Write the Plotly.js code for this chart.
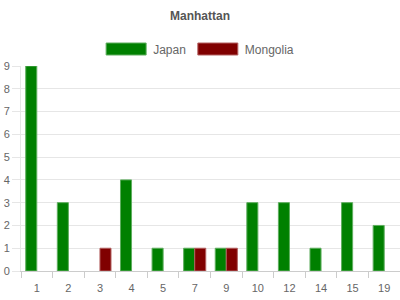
<!DOCTYPE html>
<html>
<head>
<meta charset="utf-8">
<script src="https://cdn.plot.ly/plotly-3.0.1.min.js"></script>
<style>html,body{margin:0;padding:0;background:#fff;}#chart{width:400px;height:300px;}</style>
</head>
<body>
<div id="chart"></div>
<script>
var categories = ["1","2","3","4","5","7","9","10","12","14","15","19"];
var japan    = [9,3,0,4,1,1,1,3,3,1,3,2];
var mongolia = [0,0,1,0,0,1,1,0,0,0,0,0];
var seriesNames = ["Japan","Mongolia"];
var edgeColors = ["#5fae5f","#b36060"];

function edge(vals){ return vals.map(function(v){ return v ? 1 : 0; }); }

var traces = [
  {type:"bar", name:seriesNames[0], x:categories, y:japan,
   marker:{color:"#008000", line:{color:edgeColors[0], width:edge(japan)}}},
  {type:"bar", name:seriesNames[1], x:categories, y:mongolia,
   marker:{color:"#800000", line:{color:edgeColors[1], width:edge(mongolia)}}}
];

var font = "Liberation Sans, Arial, sans-serif";
var layout = {
  width:400, height:300,
  margin:{l:21, r:0, t:66, b:29},
  paper_bgcolor:"#fff", plot_bgcolor:"#fff",
  barmode:"group", bargap:0.3, bargroupgap:0,
  font:{family:font, size:11, color:"#666"},
  title:{text:"<b>Manhattan</b>", font:{family:font, size:12, color:"#555"},
         x:0.5, xanchor:"center", y:1-16/300, yanchor:"middle", yref:"container"},
  showlegend:true,
  legend:{orientation:"h", x:0.47, xanchor:"center", y:1+17/205, yanchor:"middle",
          font:{family:font, size:12, color:"#666"}, itemwidth:44, traceorder:"normal"},
  xaxis:{type:"category", tickson:"boundaries", ticks:"outside", ticklen:6,
         tickcolor:"#ccc", showline:true, linecolor:"#ccc", showgrid:false,
         ticklabelstandoff:7,
         tickfont:{size:11, color:"#666"}, fixedrange:true},
  yaxis:{range:[0,9], dtick:1, ticks:"outside", ticklen:8, tickcolor:"#e6e6e6",
         showline:true, linecolor:"#e6e6e6", gridcolor:"#e6e6e6", zeroline:false,
         tickfont:{size:11, color:"#666"}, fixedrange:true}
};

Plotly.newPlot("chart", traces, layout, {displayModeBar:false, staticPlot:true}).then(function(){
  document.querySelectorAll(".legend .traces").forEach(function(t, i){
    t.querySelectorAll(".legendpoints path").forEach(function(p){
      p.setAttribute("d","M20,6H-20V-6H20Z");
      p.style.strokeWidth = "1px";
      p.style.stroke = edgeColors[i % edgeColors.length];
    });
  });
});
</script>
</body>
</html>
